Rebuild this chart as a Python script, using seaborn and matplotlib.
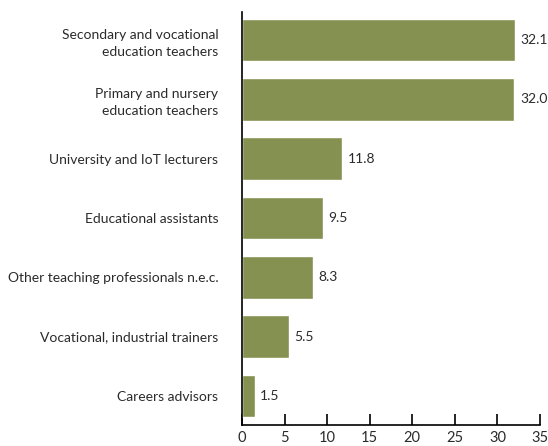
import seaborn as sns
import matplotlib.pyplot as plt
import pandas as pd

# Dados
categorias = ['Secondary and vocational\neducation teachers',
              'Primary and nursery\neducation teachers',
              'University and IoT lecturers',
              'Educational assistants',
              'Other teaching professionals n.e.c.',
              'Vocational, industrial trainers',
              'Careers advisors']
valores = [32.1, 32.0, 11.8, 9.5, 8.3, 5.5, 1.5]
ticks_x = [0, 5, 10, 15, 20, 25, 30, 35]

df = pd.DataFrame({'ocupacao': categorias, 'valor': valores})

sns.set_theme(style='white')
plt.rcParams['font.family'] = ['Lato', 'DejaVu Sans']
cor_texto = '#2b2b2b'

fig = plt.figure(figsize=(5.48, 4.46), dpi=100)
ax = fig.add_axes([0.4416, 0.047, 0.5438, 0.926])

sns.barplot(data=df, y='ocupacao', x='valor', color='#849151', saturation=1,
            width=0.72, orient='h', ax=ax)

ax.bar_label(ax.containers[0], fmt='%.1f', padding=4, fontsize=10, color=cor_texto)

ax.set_xlim(0, 35)
ax.set_ylim(6.49, -0.47)
ax.set_xticks(ticks_x)
ax.set_xlabel('')
ax.set_ylabel('')

for lado in ['top', 'right']:
    ax.spines[lado].set_visible(False)
for lado in ['left', 'bottom']:
    ax.spines[lado].set_color('black')
    ax.spines[lado].set_linewidth(1.2)

ax.tick_params(axis='x', direction='in', length=8, width=1.2, color='black',
               labelsize=10.5, labelcolor=cor_texto, pad=4, bottom=True)
ax.tick_params(axis='y', length=0, labelsize=10, labelcolor=cor_texto, pad=17)
for rotulo in ax.get_yticklabels():
    rotulo.set_linespacing(1.5)

fig.savefig('out.png', dpi=100)
